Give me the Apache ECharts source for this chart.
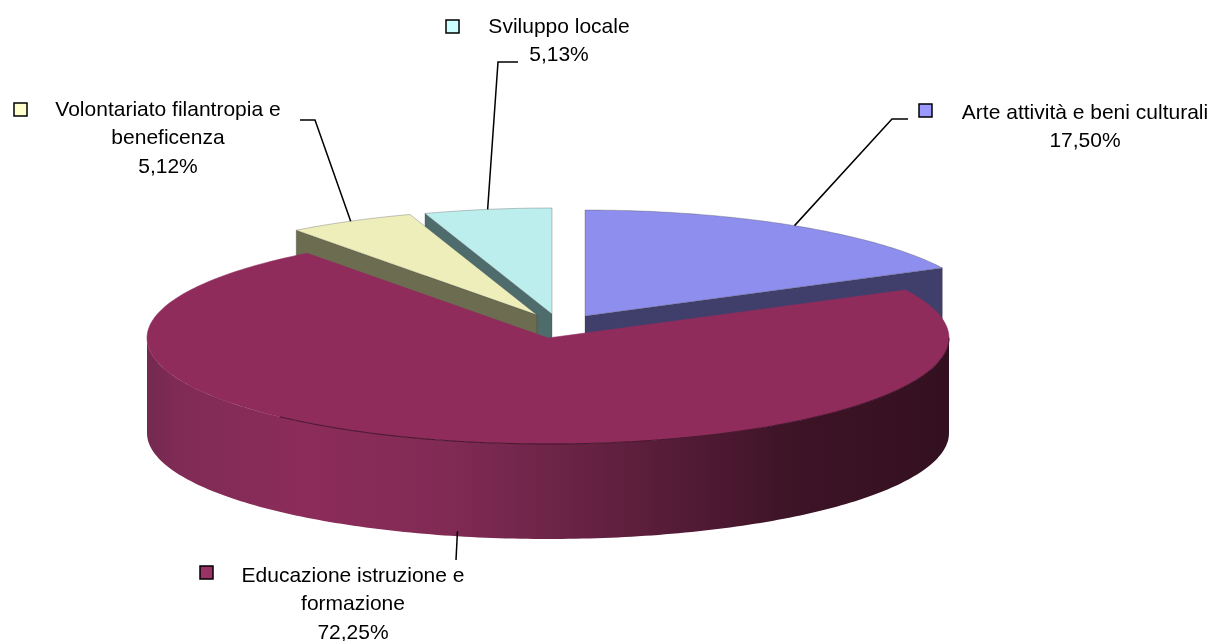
<!DOCTYPE html>
<html>
<head>
<meta charset="utf-8">
<title>Pie</title>
<script src="https://cdn.jsdelivr.net/npm/echarts@6/dist/echarts.min.js"></script>
<style>
  html, body { margin: 0; padding: 0; background: #fff; }
  #chart { width: 1230px; height: 641px; }
</style>
</head>
<body>
<div id="chart"></div>
<script>
// clockwise from 12 o'clock
var categories = [
  "Arte attività e beni culturali",
  "Educazione istruzione e formazione",
  "Volontariato filantropia e beneficenza",
  "Sviluppo locale"
];
var values = [17.5, 72.25, 5.12, 5.13];
var labelLines = [
  ["Arte attività e beni culturali"],
  ["Educazione istruzione e", "formazione"],
  ["Volontariato filantropia e", "beneficenza"],
  ["Sviluppo locale"]
];

var topColors = ["#8E8EEE", "#8F2C5C", "#EEEEBB", "#BCEEEE"];
var wallColors = ["#403F6C", "#8F2C5C", "#6C6C50", "#4F6C6C"];
var keyColors = ["#9999FF", "#993366", "#FFFFCC", "#CCFFFF"];

// pie geometry, one centre per slice because they are pulled apart
var centers = [[585, 316], [548, 338], [537, 315], [552, 314]];
var rx = 401, ry = 106, depth = 95;
var drawOrder = [3, 2, 0, 1];

// where each label sits
var labelCenterX = [1085, 353, 168, 559];
var labelTopY = [113, 576, 110, 27];
var lineHeight = 28.5;
var keyPos = [[919, 104], [200, 566], [14, 103], [446, 20]];
var elbows = [
  [[892, 119], [908, 119]],
  [[456, 560]],
  [[315, 120], [300, 120]],
  [[498, 62], [518, 62]]
];

var total = values.reduce(function (a, b) { return a + b; }, 0);
var starts = [];
values.reduce(function (acc, v, i) {
  starts[i] = (acc / total) * 360;
  return acc + v;
}, 0);

function pt(c, deg, dy) {
  var r = (deg * Math.PI) / 180;
  return [c[0] + rx * Math.sin(r), c[1] - ry * Math.cos(r) + (dy || 0)];
}

function arc(c, a0, a1, dy) {
  var out = [];
  var n = Math.max(2, Math.ceil(Math.abs(a1 - a0)));
  for (var k = 0; k <= n; k++) {
    out.push(pt(c, a0 + ((a1 - a0) * k) / n, dy));
  }
  return out;
}

function renderSlice(params, api) {
  var i = api.value(0);
  var v = api.value(1);
  var a0 = starts[i];
  var a1 = a0 + (v / total) * 360;
  var c = centers[i];
  var kids = [];

  // radial walls, seen only when they face the viewer
  if (i !== 1) {
    var wallAngle = a0 > 180 ? a0 : a1;
    var p = pt(c, wallAngle);
    kids.push({
      type: "polygon",
      shape: { points: [c, p, [p[0], p[1] + depth], [c[0], c[1] + depth]] },
      style: { fill: wallColors[i], stroke: "rgba(50,50,50,0.45)", lineWidth: 0.6 }
    });
  }

  // outer rim of the big slice
  if (i === 1) {
    var rimTop = arc(c, 90, 270);
    var rimBottom = arc(c, 270, 90, depth);
    kids.push({
      type: "polygon",
      shape: { points: rimTop.concat(rimBottom) },
      style: {
        fill: {
          type: "linear", x: 0, y: 0, x2: 1, y2: 0,
          colorStops: [
            { offset: 0, color: "#74294F" },
            { offset: 0.04, color: "#802B56" },
            { offset: 0.2, color: "#8C2C5A" },
            { offset: 0.38, color: "#802A54" },
            { offset: 0.5, color: "#6E2548" },
            { offset: 0.65, color: "#561C38" },
            { offset: 0.8, color: "#3E1427" },
            { offset: 1, color: "#33101F" }
          ]
        }
      }
    });
  }

  var top = [c].concat(arc(c, a0, a1));
  kids.push({
    type: "polygon",
    shape: { points: top },
    style: {
      fill: topColors[i],
      stroke: i === 1 ? topColors[i] : "rgba(70,70,70,0.45)",
      lineWidth: i === 1 ? 0.5 : 0.7
    }
  });

  if (i === 1) {
    kids.push({
      type: "polyline",
      shape: { points: arc(c, 90, 222) },
      style: { fill: "none", stroke: "rgba(45,12,28,0.8)", lineWidth: 1 }
    });
  }
  return { type: "group", children: kids };
}

function renderLabel(params, api) {
  var i = api.value(0);
  var a0 = starts[i];
  var mid = a0 + ((api.value(1) / total) * 360) / 2;
  var anchor = pt(centers[i], mid, i === 1 ? depth - 5 : 0);
  var kids = [];

  kids.push({
    type: "polyline",
    shape: { points: [anchor].concat(elbows[i]) },
    style: { fill: "none", stroke: "#000", lineWidth: 1.5 }
  });
  kids.push({
    type: "rect",
    shape: { x: keyPos[i][0], y: keyPos[i][1], width: 13, height: 13 },
    style: { fill: keyColors[i], stroke: "#000", lineWidth: 1.5 }
  });

  var lines = labelLines[i].concat([api.value(1).toFixed(2).replace(".", ",") + "%"]);
  lines.forEach(function (t, k) {
    kids.push({
      type: "text",
      style: {
        text: t,
        x: labelCenterX[i],
        y: labelTopY[i] + k * lineHeight,
        align: "center",
        verticalAlign: "middle",
        fill: "#000",
        font: '21px "Liberation Sans", Arial, sans-serif'
      }
    });
  });
  return { type: "group", children: kids };
}

var chart = echarts.init(document.getElementById("chart"), null, { renderer: "canvas" });
chart.setOption({
  animation: false,
  backgroundColor: "#fff",
  series: [
    {
      type: "custom",
      coordinateSystem: "none",
      renderItem: renderSlice,
      data: drawOrder.map(function (i) { return [i, values[i]]; }),
      silent: true
    },
    {
      type: "custom",
      coordinateSystem: "none",
      renderItem: renderLabel,
      data: drawOrder.map(function (i) { return [i, values[i]]; }),
      silent: true,
      z: 3
    }
  ]
});
</script>
</body>
</html>
